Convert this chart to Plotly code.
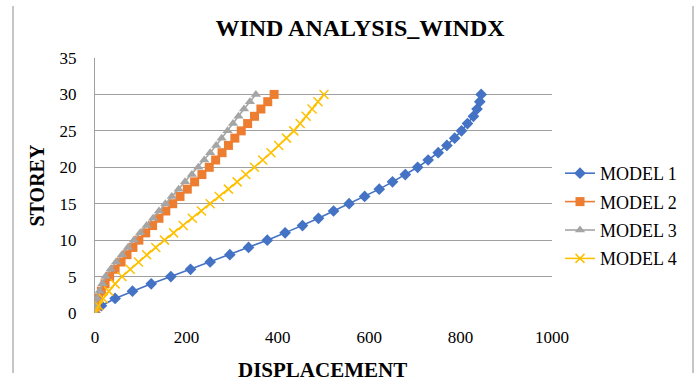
import plotly.graph_objects as go

storey = list(range(0, 31))

model1 = [0, 14, 44, 82, 123, 166, 209, 252, 295, 336, 377, 416, 454, 489, 522,
          556, 590, 622, 651, 679, 706, 729, 751, 770, 787, 802, 815, 828, 836, 842, 845]
model2 = [0, 3, 8, 14, 22, 32, 44, 57, 70, 83, 96, 111, 126, 140, 155,
          170, 186, 202, 218, 234, 250, 264, 278, 292, 306, 320, 334, 349, 363, 378, 392]
model3 = [0, 2, 5, 10, 16, 23, 34, 46, 59, 72, 85, 99, 113, 127, 140,
          154, 168, 183, 197, 212, 226, 239, 252, 265, 277, 290, 302, 314, 326, 339, 352]
model4 = [0, 8, 18, 30, 44, 59, 77, 95, 113, 133, 152, 172, 193, 213, 233,
          252, 272, 292, 311, 330, 349, 367, 385, 402, 419, 435, 449, 462, 475, 488, 501]

names = ["MODEL 1", "MODEL 2", "MODEL 3", "MODEL 4"]
colors = ["#4472C4", "#ED7D31", "#A5A5A5", "#FFC000"]
symbols = ["diamond", "square", "triangle-up", "x-thin"]
sizes = [9, 9, 9, 9]

x_ticks = [0, 200, 400, 600, 800, 1000]
y_ticks = [0, 5, 10, 15, 20, 25, 30, 35]

SERIF = "Times New Roman, Liberation Serif, serif"

fig = go.Figure()
for i, vals in enumerate([model1, model2, model3, model4]):
    marker = dict(symbol=symbols[i], size=sizes[i], color=colors[i])
    if symbols[i] == "x-thin":
        marker["line"] = dict(color=colors[i], width=1.5)
    fig.add_trace(go.Scatter(
        x=vals, y=storey, mode="lines+markers", name=names[i],
        line=dict(color=colors[i], width=1.6), marker=marker,
        legendgroup=names[i],
    ))

L, R, T, B = 95, 148, 58, 70
W, H = 700, 383
pw, ph = W - L - R, H - T - B

fig.update_layout(
    width=W, height=H,
    margin=dict(l=L, r=R, t=T, b=B),
    paper_bgcolor="white", plot_bgcolor="white",
    font=dict(family=SERIF, size=17, color="#000000"),
    title=dict(text="<b>WIND ANALYSIS_WINDX</b>", x=360 / W, xanchor="center",
               y=1 - 28 / H, yanchor="middle", font=dict(family=SERIF, size=24)),
    legend=dict(x=(560 - L) / pw, xanchor="left", y=(H - B - 155) / ph, yanchor="top",
                font=dict(family=SERIF, size=18), tracegroupgap=2,
                bgcolor="rgba(0,0,0,0)", itemwidth=30),
    showlegend=True,
)
fig.update_xaxes(range=[0, 1000], tickvals=x_ticks, showgrid=False, zeroline=False,
                 showline=False, ticks="", ticklabelstandoff=12,
                 tickfont=dict(family=SERIF, size=17))
fig.update_yaxes(range=[0, 35], tickvals=y_ticks, showgrid=True, gridcolor="#A0A0A0",
                 gridwidth=1.3, zeroline=False, showline=True, linecolor="#A0A0A0",
                 linewidth=1.3, ticks="", ticklabelstandoff=14,
                 tickfont=dict(family=SERIF, size=17))

fig.add_annotation(text="<b>STOREY</b>", textangle=-90, xref="paper", yref="paper",
                   x=(36 - L) / pw, y=0.5, showarrow=False, xanchor="center", yanchor="middle",
                   font=dict(family=SERIF, size=20))
fig.add_annotation(text="<b>DISPLACEMENT</b>", xref="paper", yref="paper",
                   x=(322 - L) / pw, y=(H - B - 370) / ph, showarrow=False,
                   xanchor="center", yanchor="middle", font=dict(family=SERIF, size=21))

for px in (13, 693):
    fig.add_shape(type="line", xref="paper", yref="paper",
                  x0=(px - L) / pw, x1=(px - L) / pw,
                  y0=(H - B - 6) / ph, y1=(H - B - 373) / ph,
                  line=dict(color="#8C8C8C", width=1))

fig.write_html("out.html")
